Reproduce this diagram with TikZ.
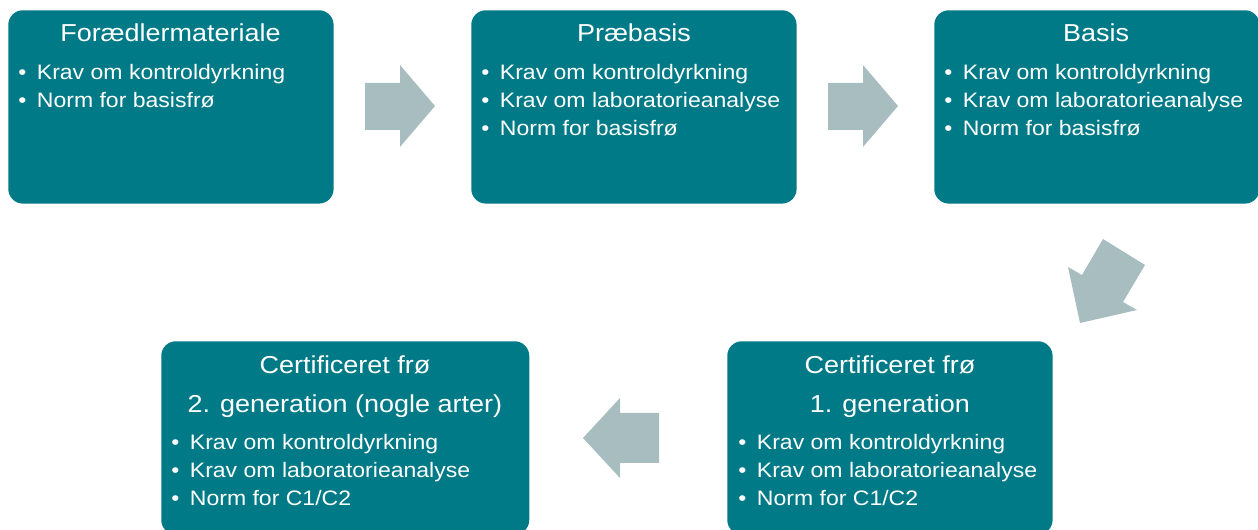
\documentclass[tikz,border=0pt]{standalone}
\usepackage{fontspec}
\setmainfont{Liberation Sans}[FakeStretch=1.1]
\definecolor{boxteal}{RGB}{0,122,135}
\definecolor{arrowgrey}{RGB}{168,189,192}

\begin{document}
\begin{tikzpicture}[x=0.75pt, y=-0.75pt,
    box/.style={fill=boxteal, rounded corners=11pt, anchor=north west,
      minimum width=244pt, minimum height=145pt, inner sep=0pt},
    heading/.style={anchor=base, text=white, inner sep=0pt,
      font=\fontsize{18.4}{22}\selectfont},
    item/.style={anchor=base west, text=white, inner sep=0pt,
      font=\fontsize{15.7}{21}\selectfont},
    blockarrow/.style={fill=arrowgrey}]

  \useasboundingbox (0,0) rectangle (1258,530);
  \clip (0,0) rectangle (1258,530);

  % boxes
  \node [box] (foraedler) at (8, 10) {};
  \node [box] (praebasis) at (471, 10) {};
  \node [box] (basis) at (934, 10) {};
  \node [box] (cert1) at (727, 341) {};
  \node [box, minimum width=276pt] (cert2) at (161, 341) {};

  % Foraedlermateriale
  \node [heading] (foraedlerT) at (170.5, 42) {Forædlermateriale};
  \node [item] (foraedlerA) at (18, 80) {\makebox[14pt][l]{\textbullet}Krav om kontroldyrkning};
  \node [item] (foraedlerB) at (18, 108) {\makebox[14pt][l]{\textbullet}Norm for basisfrø};

  % Praebasis
  \node [heading] (praebasisT) at (634, 42) {Præbasis};
  \node [item] (praebasisA) at (481, 80) {\makebox[14pt][l]{\textbullet}Krav om kontroldyrkning};
  \node [item] (praebasisB) at (481, 108) {\makebox[14pt][l]{\textbullet}Krav om laboratorieanalyse};
  \node [item] (praebasisC) at (481, 136) {\makebox[14pt][l]{\textbullet}Norm for basisfrø};

  % Basis
  \node [heading] (basisT) at (1096, 42) {Basis};
  \node [item] (basisA) at (944, 80) {\makebox[14pt][l]{\textbullet}Krav om kontroldyrkning};
  \node [item] (basisB) at (944, 108) {\makebox[14pt][l]{\textbullet}Krav om laboratorieanalyse};
  \node [item] (basisC) at (944, 136) {\makebox[14pt][l]{\textbullet}Norm for basisfrø};

  % Certificeret froe 1. generation
  \node [heading] (cert1T) at (890, 374) {Certificeret frø};
  \node [heading] (cert1U) at (890, 413) {1. generation};
  \node [item] (cert1A) at (738, 450) {\makebox[14pt][l]{\textbullet}Krav om kontroldyrkning};
  \node [item] (cert1B) at (738, 478) {\makebox[14pt][l]{\textbullet}Krav om laboratorieanalyse};
  \node [item] (cert1C) at (738, 506) {\makebox[14pt][l]{\textbullet}Norm for C1/C2};

  % Certificeret froe 2. generation
  \node [heading] (cert2T) at (345, 374) {Certificeret frø};
  \node [heading] (cert2U) at (345, 413) {2. generation (nogle arter)};
  \node [item] (cert2A) at (171, 450) {\makebox[14pt][l]{\textbullet}Krav om kontroldyrkning};
  \node [item] (cert2B) at (171, 478) {\makebox[14pt][l]{\textbullet}Krav om laboratorieanalyse};
  \node [item] (cert2C) at (171, 506) {\makebox[14pt][l]{\textbullet}Norm for C1/C2};

  % block arrows
  \fill [blockarrow] (365, 83) -- (400, 83) -- (400, 65) -- (435, 106)
    -- (400, 147) -- (400, 130) -- (365, 130) -- cycle;
  \fill [blockarrow] (828, 83) -- (863, 83) -- (863, 65) -- (898, 106)
    -- (863, 147) -- (863, 130) -- (828, 130) -- cycle;
  \fill [blockarrow] (1103, 239) -- (1145, 265) -- (1123, 302) -- (1137, 310)
    -- (1080, 323) -- (1068, 267) -- (1082, 275) -- cycle;
  \fill [blockarrow] (659, 413) -- (620, 413) -- (620, 398) -- (583, 438)
    -- (620, 478) -- (620, 463) -- (659, 463) -- cycle;
\end{tikzpicture}
\end{document}
